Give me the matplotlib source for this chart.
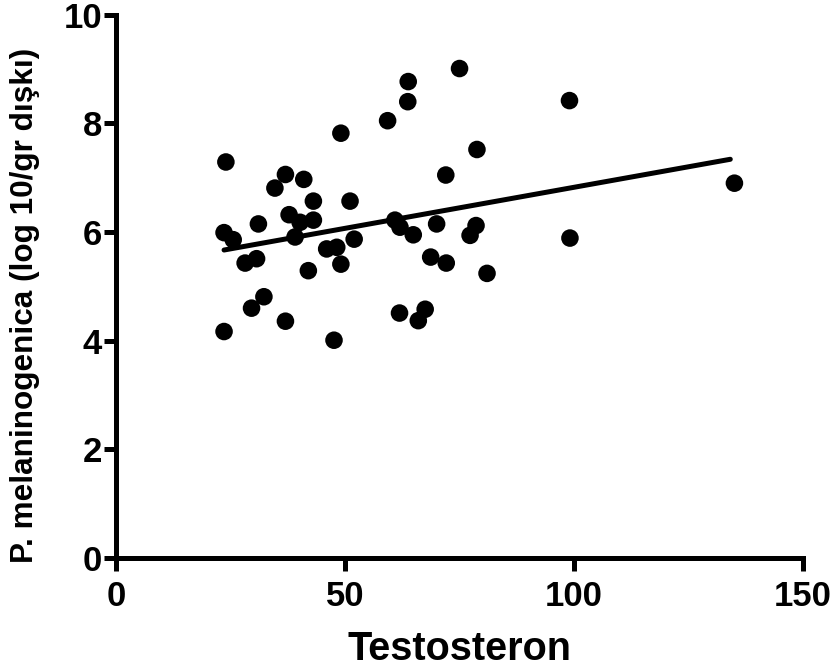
import numpy as np
import matplotlib.pyplot as plt

plt.rcParams['font.family'] = ['Liberation Sans', 'DejaVu Sans']
plt.rcParams['font.weight'] = 'bold'

# Testosteron vs P. melaninogenica (log10/gr)
testosteron = [24.0, 37.0, 41.0, 34.7, 49.1, 59.3, 43.1, 51.1, 37.8, 40.2,
               43.1, 31.1, 23.6, 25.6, 39.1, 52.0, 46.0, 48.2, 49.1, 28.2,
               30.7, 42.0, 32.3, 29.6, 37.0, 23.6, 47.6,
               75.0, 63.8, 63.7, 78.8, 72.0, 99.0, 60.9, 62.0, 64.9,
               70.0, 78.6, 77.3, 68.7, 72.1, 81.0, 61.9, 67.5, 66.0,
               99.1, 135.0]
p_mel = [7.29, 7.06, 6.97, 6.81, 7.82, 8.05, 6.57, 6.57, 6.32, 6.18,
         6.22, 6.15, 5.99, 5.86, 5.91, 5.87, 5.69, 5.72, 5.41, 5.43,
         5.51, 5.29, 4.81, 4.60, 4.36, 4.17, 4.01,
         9.01, 8.77, 8.40, 7.52, 7.05, 8.42, 6.22, 6.09, 5.95,
         6.15, 6.12, 5.94, 5.54, 5.43, 5.24, 4.51, 4.58, 4.37,
         5.89, 6.90]

# regression line end points
fit_x = [23.6, 134.1]
fit_y = [5.67, 7.34]

fig = plt.figure(figsize=(8.34, 6.70), dpi=100)
ax = fig.add_axes([0.139, 0.167, 0.824, 0.811])

ax.scatter(testosteron, p_mel, s=160, color='black', edgecolors='none', zorder=3, clip_on=False)
ax.plot(fit_x, fit_y, color='black', linewidth=3.6, solid_capstyle='round', zorder=2)

ax.set_xlim(0, 150)
ax.set_ylim(0, 10)
ax.set_xticks([0, 50, 100, 150])
ax.set_yticks([0, 2, 4, 6, 8, 10])

for s in ['top', 'right']:
    ax.spines[s].set_visible(False)
for s in ['left', 'bottom']:
    ax.spines[s].set_linewidth(3.6)
    ax.spines[s].set_capstyle('projecting')

ax.tick_params(axis='both', direction='out', length=9, width=3.6)
ax.tick_params(axis='x', pad=7)
ax.tick_params(axis='y', pad=1)
for lbl in ax.get_xticklabels() + ax.get_yticklabels():
    lbl.set_fontweight('bold')
    lbl.set_fontsize(25)

ax.set_xlabel('Testosteron', fontsize=28.5, fontweight='bold', labelpad=12)
ax.set_ylabel('P. melaninogenica (log 10/gr dışkı)', fontsize=22.7, fontweight='bold', labelpad=16)
ax.yaxis.set_label_coords(-0.11, 0.466)

fig.savefig('out.png', dpi=100)
